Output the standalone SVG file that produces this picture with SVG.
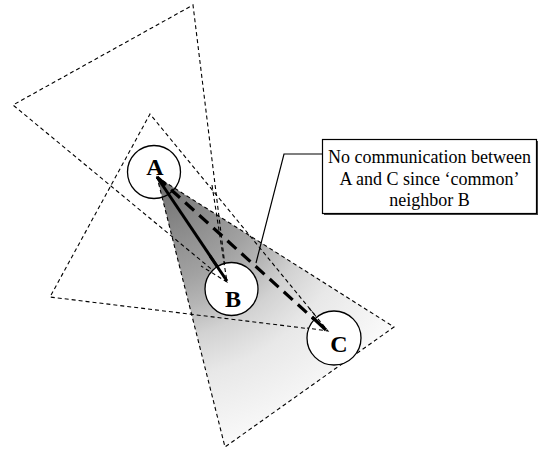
<svg xmlns="http://www.w3.org/2000/svg" width="549" height="450" viewBox="0 0 549 450">
  <style>
    .beam { fill: none; stroke: #000; stroke-width: 1.1; stroke-dasharray: 4 3; }
    .node circle { fill: #fff; stroke: #000; stroke-width: 1.3; }
    .node text { font-size: 24px; font-weight: bold; text-anchor: middle; fill: #000; }
    .note text { font-size: 18px; text-anchor: middle; fill: #000; }
  </style>
  <defs>
    <!-- shading fades out with distance from node A -->
    <radialGradient id="shade" gradientUnits="userSpaceOnUse" cx="157" cy="177" r="290">
      <stop offset="0" stop-color="#6e6e6e"/>
      <stop offset="0.1" stop-color="#7c7c7c"/>
      <stop offset="0.2" stop-color="#8b8b8b"/>
      <stop offset="0.36" stop-color="#a2a2a2"/>
      <stop offset="0.46" stop-color="#b6b6b6"/>
      <stop offset="0.56" stop-color="#d2d2d2"/>
      <stop offset="0.7" stop-color="#e8e8e8"/>
      <stop offset="0.92" stop-color="#f7f7f7"/>
      <stop offset="1" stop-color="#ffffff"/>
    </radialGradient>
  </defs>

  <!-- antenna beams -->
  <g id="beams">
    <polygon points="157,177 394,327 225,447" fill="url(#shade)" stroke="none"/>
    <polygon class="beam" points="157,177 394,327 225,447"/>
    <polygon class="beam" points="227,282 13,105 193,5"/>
    <polygon class="beam" points="328,331 150,114 50,297"/>
  </g>

  <!-- links -->
  <g id="connectors">
    <line x1="157" y1="177" x2="227" y2="281" stroke="#000" stroke-width="3"/>
    <line x1="157" y1="177" x2="326" y2="330" stroke="#000" stroke-width="3.2" stroke-dasharray="12 7"/>
    <polyline points="322,154 284,154 256,263" fill="none" stroke="#000" stroke-width="1.2"/>
  </g>

  <g id="node-A" class="node">
    <circle cx="154" cy="172" r="26.5" fill-opacity="0"/>
    <text x="155" y="175" font-family="'Liberation Serif', 'Times New Roman', serif">A</text>
  </g>
  <g id="node-B" class="node">
    <circle cx="231.5" cy="289" r="26.5"/>
    <text x="233" y="307" font-family="'Liberation Serif', 'Times New Roman', serif">B</text>
  </g>
  <g id="node-C" class="node">
    <circle cx="334" cy="338" r="27"/>
    <text x="339" y="352" font-family="'Liberation Serif', 'Times New Roman', serif">C</text>
  </g>

  <!-- link ends drawn again over the node fills -->
  <g id="link-ends">
    <line x1="210" y1="256" x2="227" y2="281" stroke="#000" stroke-width="3"/>
    <line x1="312" y1="317" x2="326" y2="330" stroke="#000" stroke-width="3.2"/>
    <polyline class="beam" points="212,185 227,282 201,266"/>
    <polyline class="beam" points="309,308 328,331 307,328"/>
  </g>

  <g id="note" class="note" font-family="'Liberation Serif', 'Times New Roman', serif">
    <rect x="324" y="141" width="214" height="74" fill="#444"/>
    <rect x="322.5" y="139.5" width="214" height="74" fill="#fff" stroke="#000" stroke-width="1.2"/>
    <text x="429.5" y="163">No communication between</text>
    <text x="429.5" y="185">A and C since ‘common’</text>
    <text x="429.5" y="206">neighbor B</text>
  </g>
</svg>
